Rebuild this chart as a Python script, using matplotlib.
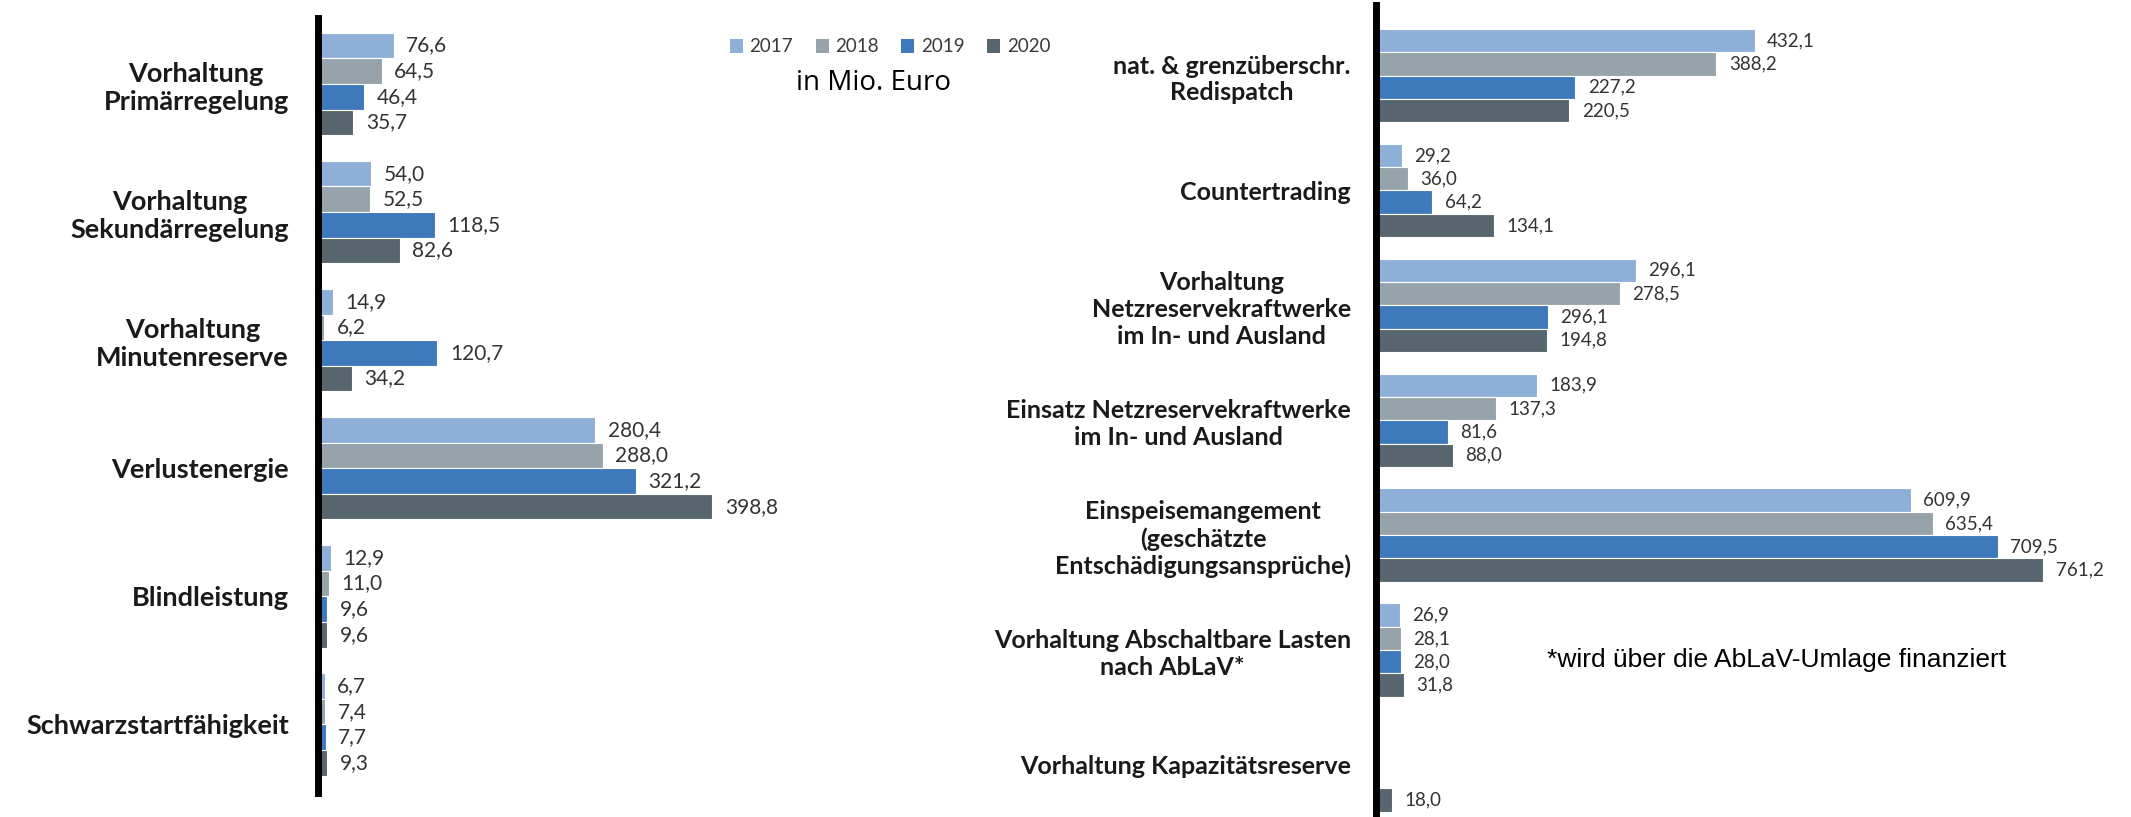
import numpy as np
import matplotlib
matplotlib.use("Agg")
import matplotlib.pyplot as plt
from matplotlib.patches import Patch

# Kosten Systemdienstleistungen, in Mio. Euro
years = ["2017", "2018", "2019", "2020"]
colors = ["#8EB0D8", "#96A3AA", "#3E79BC", "#56656E"]

# left panel
cats_left = ["Vorhaltung\nPrimärregelung", "Vorhaltung\nSekundärregelung",
             "Vorhaltung\nMinutenreserve", "Verlustenergie", "Blindleistung",
             "Schwarzstartfähigkeit"]
l2017 = [76.6, 54.0, 14.9, 280.4, 12.9, 6.7]
l2018 = [64.5, 52.5, 6.2, 288.0, 11.0, 7.4]
l2019 = [46.4, 118.5, 120.7, 321.2, 9.6, 7.7]
l2020 = [35.7, 82.6, 34.2, 398.8, 9.6, 9.3]

# right panel
cats_right = ["nat. & grenzüberschr.\nRedispatch", "Countertrading",
              "Vorhaltung\nNetzreservekraftwerke\nim In- und Ausland",
              "Einsatz Netzreservekraftwerke\nim In- und Ausland",
              "Einspeisemangement\n(geschätzte\nEntschädigungsansprüche)",
              "Vorhaltung Abschaltbare Lasten\nnach AbLaV*",
              "Vorhaltung Kapazitätsreserve"]
r2017 = [432.1, 29.2, 296.1, 183.9, 609.9, 26.9, np.nan]
r2018 = [388.2, 36.0, 278.5, 137.3, 635.4, 28.1, np.nan]
# in the source the 2019 Netzreserve bar is drawn at ~196 but printed as 296,1
r2019 = [227.2, 64.2, 196.0, 81.6, 709.5, 28.0, np.nan]
r2019_printed = [227.2, 64.2, 296.1, 81.6, 709.5, 28.0, np.nan]
r2020 = [220.5, 134.1, 194.8, 88.0, 761.2, 31.8, 18.0]


def fmt(v):
    return f"{v:.1f}".replace(".", ",")


def draw_panel(ax, cats, series, printed, bar_h, lab_size, cat_size, pad):
    y = np.arange(len(cats))
    for i, (vals, shown) in enumerate(zip(series, printed)):
        yy = y + (i - 1.5) * bar_h
        vals = np.array(vals, dtype=float)
        ax.barh(yy, vals, height=bar_h, color=colors[i], edgecolor="white",
                linewidth=0.8, label=years[i])
        for v, s, yv in zip(vals, shown, yy):
            if np.isnan(v):
                continue
            ax.annotate(fmt(s), (v, yv), xytext=(9, 0), textcoords="offset points",
                        va="center", ha="left", fontsize=lab_size,
                        family="Lato", color="#333333")
    ax.set_yticks(y)
    ax.set_yticklabels(cats, multialignment="center", fontsize=cat_size,
                       family="Lato", fontweight="bold", color="#1a1a1a")
    ax.tick_params(axis="y", length=0, pad=pad)
    ax.set_xticks([])
    for s in ["top", "right", "bottom"]:
        ax.spines[s].set_visible(False)
    ax.spines["left"].set_linewidth(5)
    ax.spines["left"].set_color("black")


fig = plt.figure(figsize=(21.31, 8.17), dpi=100)

ax1 = fig.add_axes([0.1492, 0.0294, 0.2088, 0.9486])
draw_panel(ax1, cats_left, [l2017, l2018, l2019, l2020],
           [l2017, l2018, l2019, l2020], 0.2, 15, 19.5, 21)
ax1.set_xlim(0, 450)
ax1.set_ylim(5.535, -0.515)

ax2 = fig.add_axes([0.6457, 0.0, 0.3496, 0.9939])
draw_panel(ax2, cats_right, [r2017, r2018, r2019, r2020],
           [r2017, r2018, r2019_printed, r2020], 0.203, 13.5, 18, 18)
ax2.set_xlim(0, 850)
ax2.set_ylim(6.453, -0.614)

handles = [Patch(facecolor=c, edgecolor="none") for c in colors]
fig.legend(handles, years, loc="center", bbox_to_anchor=(890 / 2131, 1 - 47 / 817),
           ncol=4, frameon=False, handlelength=0.7, handleheight=0.7,
           handletextpad=0.35, columnspacing=1.2,
           prop={"family": "Lato", "size": 13.5}, labelcolor="#3a3a3a")

fig.text(874 / 2131, 1 - 83 / 817, "in Mio. Euro", ha="center", va="center",
         fontsize=20, family="Open Sans", color="black")
fig.text(1777 / 2131, 1 - 660 / 817, "*wird über die AbLaV-Umlage finanziert",
         ha="center", va="center", fontsize=19, family="Liberation Sans",
         color="black")

fig.savefig("out.png", dpi=100, facecolor="white")
